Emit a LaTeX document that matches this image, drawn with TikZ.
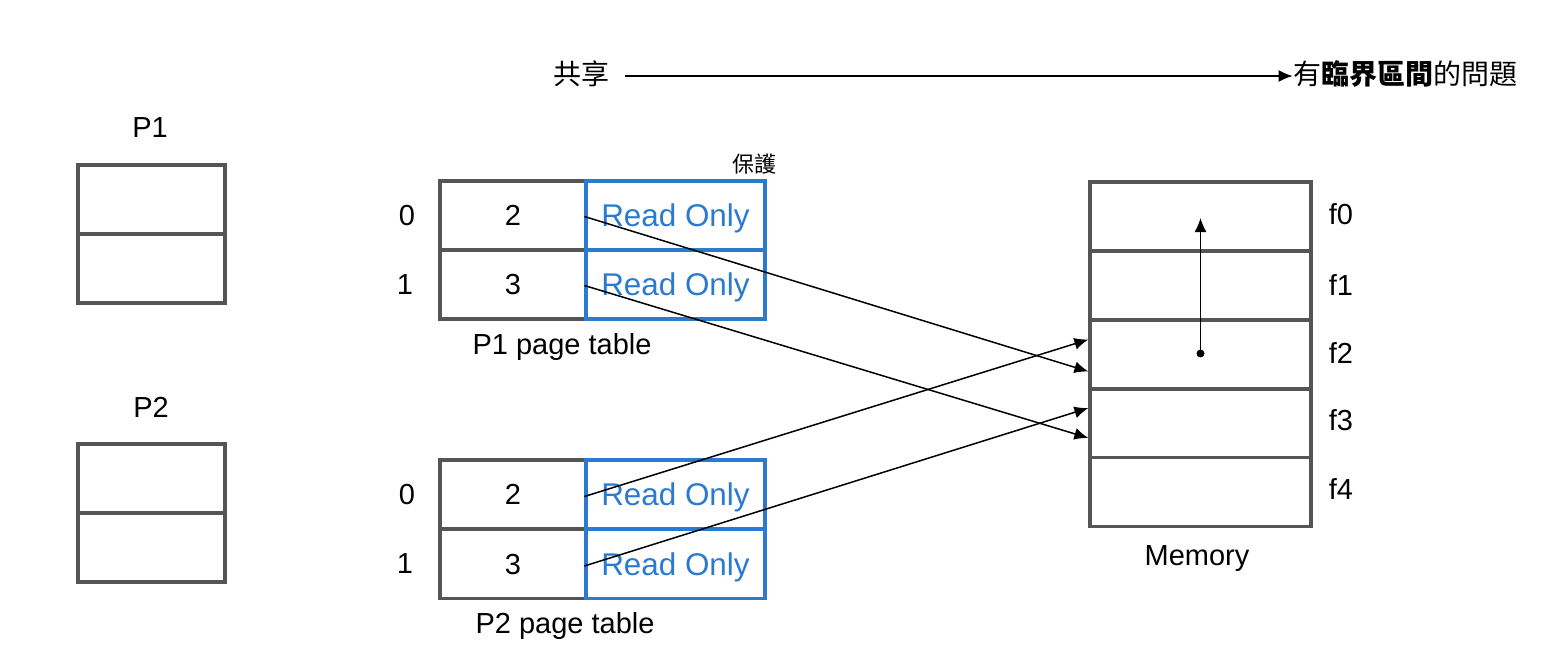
\documentclass[tikz,border=0pt]{standalone}
\usepackage{fontspec}
\setmainfont{Liberation Sans}
\newfontfamily\cjk{Noto Sans CJK TC}
\usetikzlibrary{arrows.meta,calc}
\definecolor{boxgray}{HTML}{555555}
\definecolor{roblue}{HTML}{2A7AD0}
\begin{document}
\begin{tikzpicture}[x=0.5pt,y=-0.5pt,
  cell/.style={draw=boxgray,line width=1.6pt,inner sep=0pt,minimum height=34.5pt},
  pcell/.style={cell,minimum width=73.5pt},
  ncell/.style={cell,minimum width=73pt,font=\fontsize{14.5}{16}\selectfont,text height=10.4pt,text depth=0pt},
  rocell/.style={draw=roblue,line width=1.6pt,inner sep=0pt,minimum height=34.5pt,minimum width=89.5pt,text=roblue,font=\fontsize{15.7}{17}\selectfont,text height=11.2pt,text depth=0pt},
  mcell/.style={cell,minimum width=110.5pt},
  lbl/.style={inner sep=0pt,font=\fontsize{14.5}{16}\selectfont},
  cjklbl/.style={inner sep=0pt,font=\cjk\fontsize{14}{16}\selectfont},
  link/.style={draw=black,line width=0.75pt,-{Latex[length=7pt,width=6pt]}}]
\useasboundingbox (0,0) rectangle (1544,664);

% top line
\node[cjklbl] (share) at (581,74) {共享};
\node[cjklbl] (problem) at (1405,74) {有{\bfseries 臨界區間}的問題};
\draw[link] ([xshift=8pt,yshift=-1pt]share.east) -- ([yshift=-1pt]problem.west);

% P1, P2 boxes
\node[lbl] (p1lbl) at (150,128) {P1};
\node[pcell] (p1a) at (151.5,199.5) {};
\node[pcell] (p1b) at (151.5,268.5) {};
\node[lbl] (p2lbl) at (151,407) {P2};
\node[pcell] (p2a) at (151.5,478.5) {};
\node[pcell] (p2b) at (151.5,547.5) {};

% P1 page table
\node[ncell] (t1n0) at (513,215.5) {2};
\node[ncell] (t1n1) at (513,284.5) {3};
\node[rocell] (t1r0) at (675.5,215.5) {Read Only};
\node[rocell] (t1r1) at (675.5,284.5) {Read Only};
\node[lbl] (t1i0) at (407,216) {0};
\node[lbl] (t1i1) at (405,285) {1};
\node[inner sep=0pt,font=\cjk\fontsize{11}{13}\selectfont] (prot) at (754,164) {保護};
\node[lbl] (t1lbl) at (562,347) {P1 page table};

% P2 page table
\node[ncell] (t2n0) at (513,494.5) {2};
\node[ncell] (t2n1) at (513,564) {3};
\node[rocell] (t2r0) at (675.5,494.5) {Read Only};
\node[rocell] (t2r1) at (675.5,564) {Read Only};
\node[lbl] (t2i0) at (407,495) {0};
\node[lbl] (t2i1) at (405,564) {1};
\node[lbl] (t2lbl) at (565,626) {P2 page table};

% Memory
\node[mcell] (f0) at (1200.5,216.5) {};
\node[mcell] (f1) at (1200.5,285.5) {};
\node[mcell] (f2) at (1200.5,354.5) {};
\node[mcell] (f3) at (1200.5,423) {};
\node[mcell] (f4) at (1200.5,492) {};
\node[lbl] (f0l) at (1341,214) {f0};
\node[lbl] (f1l) at (1341,285) {f1};
\node[lbl] (f2l) at (1341,353) {f2};
\node[lbl] (f3l) at (1341,420) {f3};
\node[lbl] (f4l) at (1341,489) {f4};
\node[lbl] (memlbl) at (1197,559) {Memory};

% mappings
\draw[link] ([yshift=-0.5pt]t1r0.west) -- ([yshift=-8.5pt]f2.west);
\draw[link] ([yshift=-0.5pt]t1r1.west) -- ([yshift=-7.5pt]f3.west);
\draw[link] ([yshift=-1pt]t2r0.west) -- ([yshift=7.5pt]f2.west);
\draw[link] ([yshift=-1pt]t2r1.west) -- ([yshift=7.5pt]f3.west);

% inner arrow
\coordinate (dot) at ($(f2.center)+(0,-1)$);
\coordinate (f0tip) at ($(f0.center)+(0,1.5)$);
\fill (dot) circle (2pt);
\draw[link] (dot) -- (f0tip);
\end{tikzpicture}
\end{document}
